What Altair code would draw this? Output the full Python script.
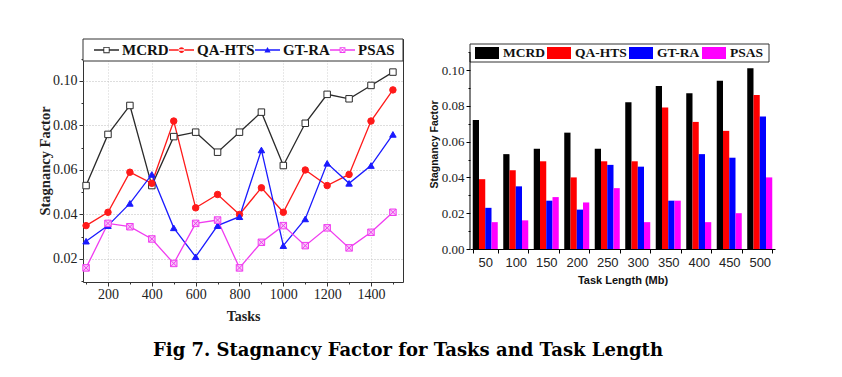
import altair as alt
import pandas as pd

# ---------------- data ----------------
series = ["MCRD", "QA-HTS", "GT-RA", "PSAS"]

tasks = [100, 200, 300, 400, 500, 600, 700, 800, 900, 1000, 1100, 1200, 1300, 1400, 1500]
mcrd_t = [0.053, 0.076, 0.089, 0.053, 0.075, 0.077, 0.068, 0.077, 0.086, 0.062, 0.081, 0.094, 0.092, 0.098, 0.104]
qa_t = [0.035, 0.041, 0.059, 0.054, 0.082, 0.043, 0.049, 0.040, 0.052, 0.041, 0.060, 0.053, 0.058, 0.082, 0.096]
gt_t = [0.028, 0.035, 0.045, 0.058, 0.034, 0.021, 0.035, 0.039, 0.069, 0.026, 0.038, 0.063, 0.054, 0.062, 0.076]
psas_t = [0.016, 0.036, 0.0345, 0.029, 0.018, 0.036, 0.0375, 0.016, 0.0275, 0.035, 0.026, 0.034, 0.025, 0.032, 0.041]

lengths = ["50", "100", "150", "200", "250", "300", "350", "400", "450", "500"]
mcrd_l = [0.072, 0.053, 0.056, 0.065, 0.056, 0.082, 0.091, 0.087, 0.094, 0.101]
qa_l = [0.039, 0.044, 0.049, 0.040, 0.049, 0.049, 0.079, 0.071, 0.066, 0.086]
gt_l = [0.023, 0.035, 0.027, 0.022, 0.047, 0.046, 0.027, 0.053, 0.051, 0.074]
psas_l = [0.015, 0.016, 0.029, 0.026, 0.034, 0.015, 0.027, 0.015, 0.020, 0.040]

y_major_left = [0.02, 0.04, 0.06, 0.08, 0.10]
y_minor_left = [0.01, 0.03, 0.05, 0.07, 0.09, 0.11]
x_major_left = [200, 400, 600, 800, 1000, 1200, 1400]
x_minor_left = [100, 300, 500, 700, 900, 1100, 1300, 1500]
y_major_right = [0.0, 0.02, 0.04, 0.06, 0.08, 0.10]
y_minor_right = [0.01, 0.03, 0.05, 0.07, 0.09, 0.11]

# ---------------- styles ----------------
line_colors = ["#2a2a2a", "#ff1a1a", "#1a1aff", "#f03cf0"]
point_fills = ["#ffffff", "#ff1a1a", "#1a1aff", "#f7c8f7"]
bar_colors = ["#000000", "#ff0000", "#0000ff", "#ff00ff"]

psas_marker = "M-1,-1H1V1H-1Z M-1,-1L1,1 M1,-1L-1,1"
point_shapes = ["square", "circle", "triangle-up", psas_marker]

t = "0.052"
leg_paths = [
    f"M-1,-{t}H-0.25V{t}H-1Z M0.25,-{t}H1V{t}H0.25Z "
    "M-0.25,-0.25H0.25V0.25H-0.25Z M-0.18,-0.18V0.18H0.18V-0.18Z",
    f"M-1,-{t}H1V{t}H-1Z M-0.23,0A0.23,0.23 0 1,0 0.23,0A0.23,0.23 0 1,0 -0.23,0Z",
    f"M-1,-{t}H1V{t}H-1Z M0,-0.25L0.25,0.2L-0.25,0.2Z",
    f"M-1,-{t}H-0.23V{t}H-1Z M0.23,-{t}H1V{t}H0.23Z "
    "M-0.23,-0.23H0.23V0.23H-0.23Z M-0.16,-0.16V0.16H0.16V-0.16Z "
    "M-0.16,-0.12L-0.12,-0.16L0.16,0.12L0.12,0.16Z M0.12,-0.16L0.16,-0.12L-0.12,0.16L-0.16,0.12Z",
]

SERIF = "Liberation Serif"
SANS = "Liberation Sans"

# ---------------- left chart ----------------
df_t = pd.DataFrame({
    "Tasks": tasks * 4,
    "value": mcrd_t + qa_t + gt_t + psas_t,
    "series": sum([[s] * len(tasks) for s in series], []),
})

LW, LH = 320, 243
x_scale_l = alt.Scale(domain=[86, 1546], nice=False, zero=False)
y_scale_l = alt.Scale(domain=[0.00966, 0.11887], nice=False, zero=False)

x_major_axis = alt.Axis(values=x_major_left, format="d", title="Tasks", grid=True,
                        gridDash=[1, 2], gridColor="#d0d0d0", domain=False,
                        tickSize=4, tickColor="#333333", labelFont=SERIF, labelFontSize=14,
                        labelColor="#222222", labelPadding=1, titleFont=SERIF, titleFontSize=14,
                        titleFontWeight="bold", titleColor="#222222", titlePadding=8)
y_major_axis = alt.Axis(values=y_major_left, format=".2f", title="Stagnancy Factor", grid=True,
                        gridDash=[1, 2], gridColor="#bdbdbd", domain=False,
                        tickSize=4, tickColor="#333333", labelFont=SERIF, labelFontSize=14,
                        labelColor="#222222", labelPadding=2, titleFont=SERIF, titleFontSize=14.5,
                        titleFontWeight="bold", titleColor="#222222", titlePadding=0)
x_minor_axis = alt.Axis(values=x_minor_left, labels=False, title=None, grid=False, domain=False,
                        tickSize=2, tickColor="#333333", orient="bottom")
y_minor_axis = alt.Axis(values=y_minor_left, labels=False, title=None, grid=False, domain=False,
                        tickSize=2, tickColor="#333333", orient="left")

base_t = alt.Chart(df_t)

lines = base_t.mark_line(strokeWidth=1.3).encode(
    x=alt.X("Tasks:Q", scale=x_scale_l, axis=x_major_axis),
    y=alt.Y("value:Q", scale=y_scale_l, axis=y_major_axis),
    stroke=alt.Stroke("series:N", scale=alt.Scale(domain=series, range=line_colors), legend=None),
)

points = base_t.mark_point(size=42, strokeWidth=1, opacity=1).encode(
    x=alt.X("Tasks:Q", scale=x_scale_l, axis=x_minor_axis),
    y=alt.Y("value:Q", scale=y_scale_l, axis=y_minor_axis),
    stroke=alt.Stroke("series:N", scale=alt.Scale(domain=series, range=line_colors), legend=None),
    fill=alt.Fill("series:N", scale=alt.Scale(domain=series, range=point_fills), legend=None),
    shape=alt.Shape("series:N", scale=alt.Scale(domain=series, range=point_shapes), legend=None),
)

box_l = alt.Chart(pd.DataFrame({"k": [0]})).mark_rect(
    fill="white", stroke="#333333", strokeWidth=1
).encode(x=alt.value(0), x2=alt.value(LW), y=alt.value(0), y2=alt.value(22))

leg_l = dict(orient="none", legendX=11, legendY=0, direction="horizontal", title=None,
             symbolSize=625, clipHeight=22, labelFont=SERIF, labelFontSize=15,
             labelFontWeight="bold", labelColor="#111111", labelOffset=3, columnPadding=0,
             padding=0, symbolStrokeWidth=0, symbolOpacity=1)

legend_dummy = base_t.transform_filter("false").mark_point(filled=True, opacity=1).encode(
    fill=alt.Fill("series:N", scale=alt.Scale(domain=series, range=line_colors),
                  legend=alt.Legend(**leg_l)),
    shape=alt.Shape("series:N", scale=alt.Scale(domain=series, range=leg_paths),
                    legend=alt.Legend(**leg_l)),
)

left = alt.layer(lines, points, box_l, legend_dummy).resolve_scale(
    shape="independent", fill="independent"
).resolve_axis(x="independent", y="independent").properties(
    width=LW, height=LH, view=alt.ViewBackground(stroke="#333333", strokeWidth=1)
)

# ---------------- right chart ----------------
df_l = pd.DataFrame({
    "Length": lengths * 4,
    "value": mcrd_l + qa_l + gt_l + psas_l,
    "series": sum([[s] * len(lengths) for s in series], []),
})

RW, RH = 305, 210
y_scale_r = alt.Scale(domain=[0, 0.11732], nice=False, zero=True)

bars = alt.Chart(df_l).mark_bar().encode(
    x=alt.X("Length:N", sort=lengths,
            scale=alt.Scale(paddingInner=0.18, paddingOuter=0.09),
            axis=alt.Axis(title="Task Length (Mb)", labelAngle=0, labelFont=SANS, labelFontSize=13,
                          labelColor="#222222", labelPadding=3, tickSize=4, tickBand="extent",
                          domainColor="#000000", tickColor="#000000", titleFont=SANS,
                          titleFontSize=11, titleFontWeight="bold", titleColor="#111111",
                          titlePadding=5)),
    xOffset=alt.XOffset("series:N", sort=series, scale=alt.Scale(paddingInner=0, paddingOuter=0)),
    y=alt.Y("value:Q", scale=y_scale_r,
            axis=alt.Axis(values=y_major_right, format=".2f", title="Stagnancy Factor", grid=False,
                          domain=False, tickSize=4, tickColor="#000000", labelFont=SERIF,
                          labelFontSize=13, labelColor="#222222", labelPadding=2, titleFont=SANS,
                          titleFontSize=10.5, titleFontWeight="bold", titleColor="#111111",
                          titlePadding=2)),
    color=alt.Color("series:N", scale=alt.Scale(domain=series, range=bar_colors),
                    legend=alt.Legend(orient="none", legendX=5, legendY=5, direction="horizontal",
                                      title=None, symbolType="M-1,-0.5H1V0.5H-1Z", symbolSize=576,
                                      clipHeight=18, labelFont=SERIF, labelFontSize=13.5,
                                      labelFontWeight="bold", labelColor="#111111", labelOffset=4,
                                      columnPadding=2, padding=0, symbolStrokeWidth=0,
                                      symbolOpacity=1)),
)

box_r = alt.Chart(pd.DataFrame({"k": [0]})).mark_rect(
    fill="white", stroke="#333333", strokeWidth=1
).encode(x=alt.value(0), x2=alt.value(299), y=alt.value(5), y2=alt.value(23))

yaxis_rule = alt.Chart(pd.DataFrame({"k": [0]})).mark_rule(color="#000000", strokeWidth=1).encode(
    x=alt.value(0),
    y=alt.YDatum(0.0, scale=y_scale_r,
                 axis=alt.Axis(values=y_minor_right, labels=False, title=None, grid=False,
                               domain=False, tickSize=2, tickColor="#000000", orient="left")),
    y2=alt.Y2Datum(0.11),
)

right = alt.layer(box_r, bars, yaxis_rule).resolve_axis(y="independent").properties(
    width=RW, height=RH, view=alt.ViewBackground(stroke=None)
)

chart = alt.hconcat(left, right, spacing=67, bounds="flush").resolve_scale(
    color="independent", fill="independent", shape="independent", stroke="independent"
).resolve_legend(
    color="independent", fill="independent", shape="independent", stroke="independent"
).properties(
    title=alt.TitleParams("Fig 7. Stagnancy Factor for Tasks and Task Length", orient="bottom",
                          anchor="middle", font="DejaVu Serif", fontSize=18, fontWeight="bold",
                          color="#000000", offset=18, dx=2),
    padding={"left": 29, "top": 30, "right": 5, "bottom": 5},
    background="white",
).configure_view(stroke=None)

chart.save("out.html", embed_options={"renderer": "svg", "actions": False})
